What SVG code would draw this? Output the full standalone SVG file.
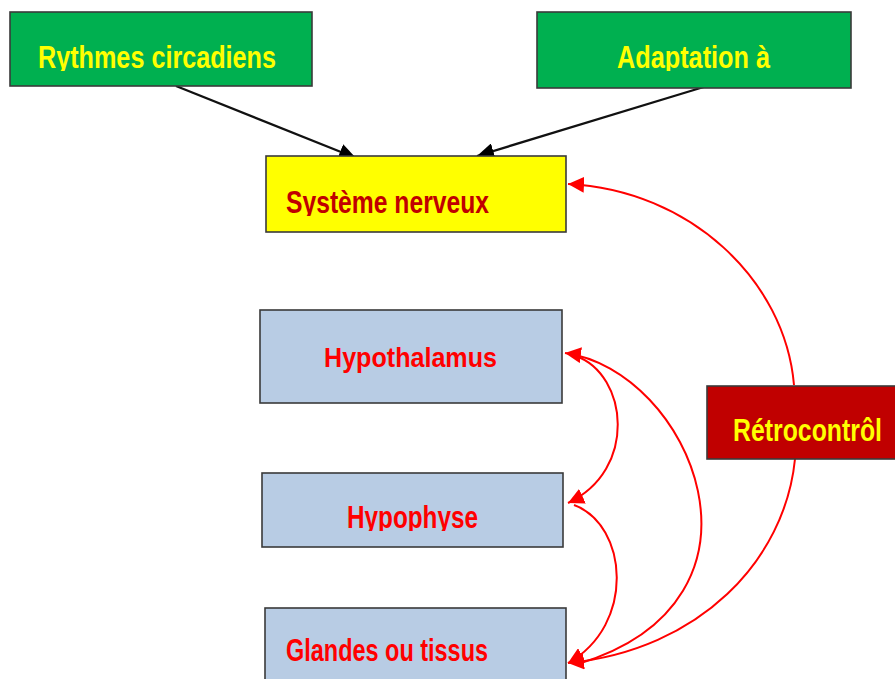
<svg xmlns="http://www.w3.org/2000/svg" width="895" height="679" viewBox="0 0 895 679">
<style>
.box{stroke:#3a3a3a;stroke-width:1.6}
.green{fill:#00B050}
.yellow{fill:#FFFF00}
.blue{fill:#B8CCE4}
.dred{fill:#C00000}
.t{font-family:"Liberation Sans",Arial,sans-serif;font-weight:bold;text-anchor:middle}
.ty{fill:#FFFF00}
.tr{fill:#FF0000}
.tdr{fill:#C00000}
.blk{stroke:#111;stroke-width:2.3;fill:none}
.red{stroke:#FF0000;stroke-width:2;fill:none}
</style>
<defs>
<marker id="ab" markerUnits="userSpaceOnUse" markerWidth="18" markerHeight="16" refX="17" refY="8" orient="auto">
<path d="M0,0 L17,8 L0,16 z" fill="#000"/>
</marker>
<marker id="ar" markerUnits="userSpaceOnUse" markerWidth="18" markerHeight="16" refX="16" refY="8" orient="auto">
<path d="M0,0 L16,8 L0,16 z" fill="#FF0000"/>
</marker>
<clipPath id="c1"><rect x="0" y="0" width="895" height="71"/></clipPath>
<clipPath id="c2"><rect x="0" y="150" width="895" height="66"/></clipPath>
<clipPath id="c3"><rect x="0" y="470" width="895" height="61"/></clipPath>
</defs>
<g id="connectors">
<line class="blk" x1="176" y1="86" x2="356" y2="158" marker-end="url(#ab)"/>
<line class="blk" x1="707" y1="86" x2="477" y2="156" marker-end="url(#ab)"/>
<path class="red" d="M794 385 C785 280 690 190 568 184" marker-end="url(#ar)"/>
<path class="red" d="M576 356 C628 375 638 470 568 503" marker-end="url(#ar)"/>
<path class="red" d="M574 505 C628 525 636 625 568 663" marker-end="url(#ar)"/>
<path class="red" d="M578 664 C790 600 690 370 565 353" marker-end="url(#ar)"/>
<path class="red" d="M795 459 C785 560 700 650 568 663" marker-end="url(#ar)"/>
</g>
<g id="rythmes">
<rect class="box green" x="10" y="12" width="302" height="74"/>
<text class="t ty" x="157" y="68" font-size="32" textLength="238" lengthAdjust="spacingAndGlyphs" clip-path="url(#c1)">Rythmes circadiens</text>
</g>
<g id="adaptation">
<rect class="box green" x="537" y="12" width="314" height="76"/>
<text class="t ty" x="693.5" y="68" font-size="32" textLength="153" lengthAdjust="spacingAndGlyphs" clip-path="url(#c1)">Adaptation à</text>
</g>
<g id="systeme">
<rect class="box yellow" x="266" y="156" width="300" height="76"/>
<text class="t tdr" x="387.5" y="213" font-size="32" textLength="203" lengthAdjust="spacingAndGlyphs" clip-path="url(#c2)">Système nerveux</text>
</g>
<g id="hypothalamus">
<rect class="box blue" x="260" y="310" width="302" height="93"/>
<text class="t tr" x="410.5" y="367" font-size="28" textLength="173" lengthAdjust="spacingAndGlyphs">Hypothalamus</text>
</g>
<g id="hypophyse">
<rect class="box blue" x="262" y="473" width="301" height="74"/>
<text class="t tr" x="412.5" y="528" font-size="32" textLength="131" lengthAdjust="spacingAndGlyphs" clip-path="url(#c3)">Hypophyse</text>
</g>
<g id="glandes">
<rect class="box blue" x="265" y="608" width="301" height="80"/>
<text class="t tr" x="387" y="661" font-size="31" textLength="202" lengthAdjust="spacingAndGlyphs">Glandes ou tissus</text>
</g>
<g id="retrocontrol">
<rect class="box dred" x="707" y="386" width="192" height="73"/>
<text class="t ty" x="807.5" y="441" font-size="31" textLength="149" lengthAdjust="spacingAndGlyphs">Rétrocontrôl</text>
</g>
</svg>
